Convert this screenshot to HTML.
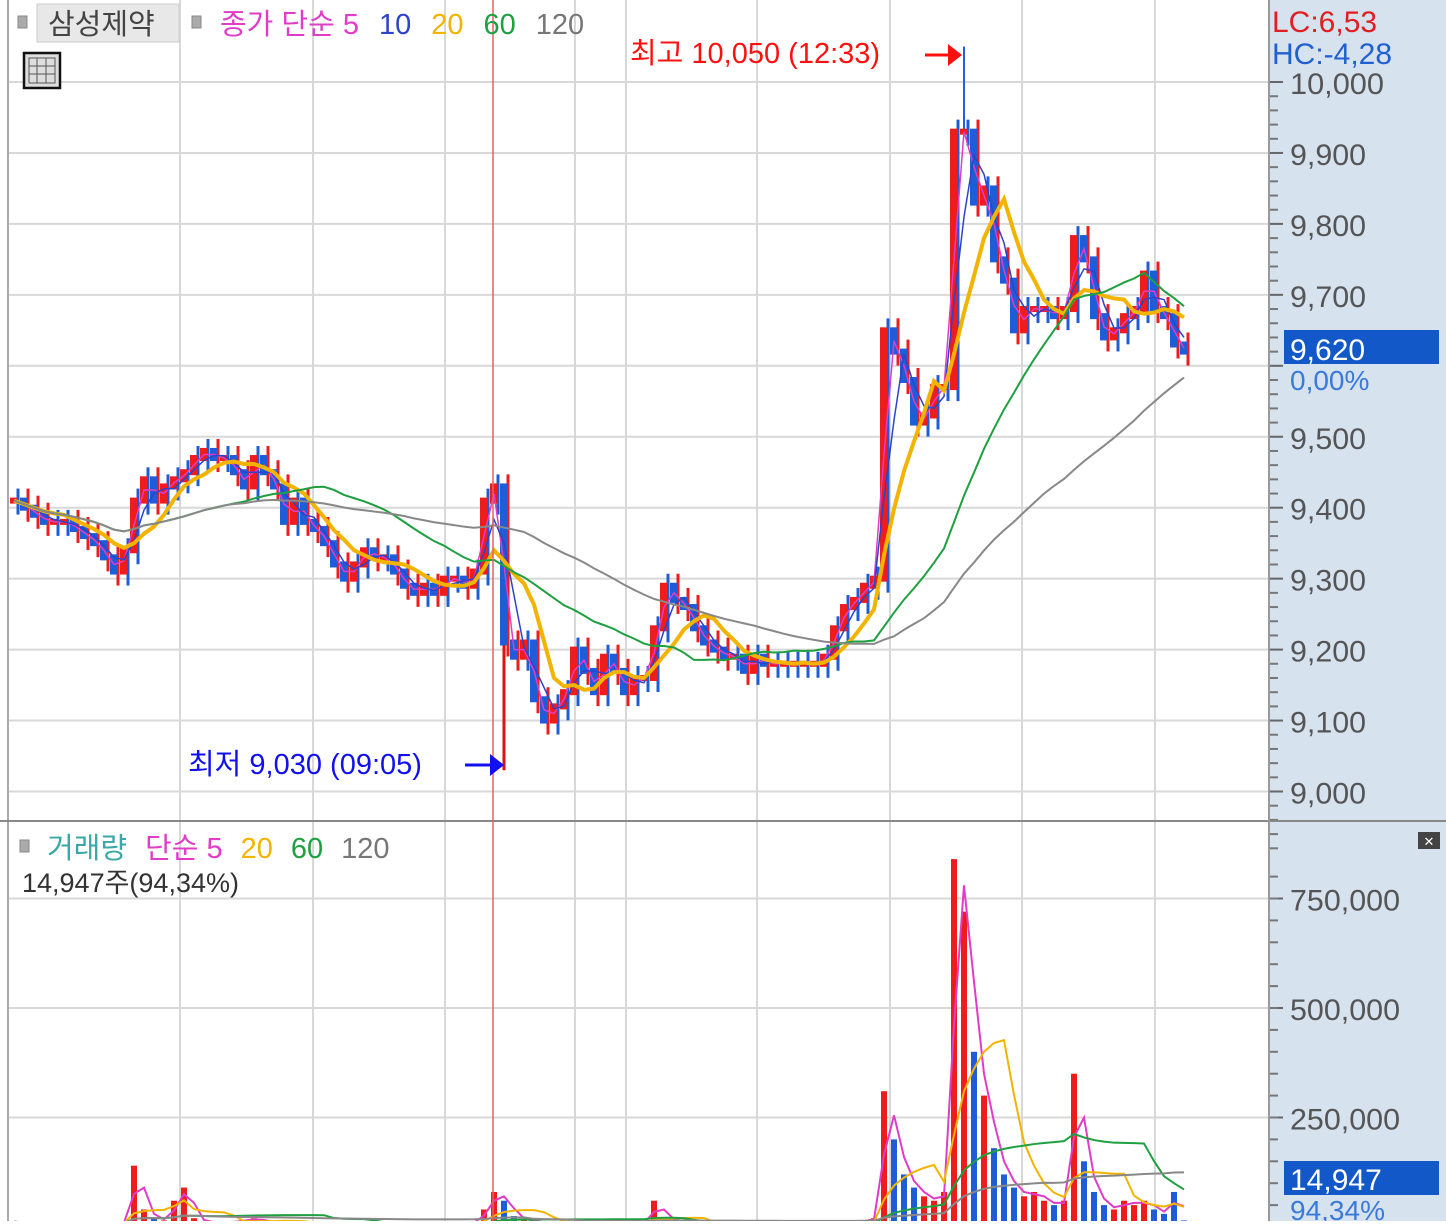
<!DOCTYPE html>
<html><head><meta charset="utf-8">
<style>
html,body{margin:0;padding:0;background:#fff;}
body{width:1446px;height:1221px;overflow:hidden;position:relative;font-family:"Liberation Sans","Noto Sans CJK KR",sans-serif;}
svg text{font-family:"Liberation Sans","Noto Sans CJK KR",sans-serif;}
</style></head>
<body>
<svg id="chart" width="1446" height="1221" xmlns="http://www.w3.org/2000/svg">
  <rect x="0" y="0" width="1446" height="1221" fill="#fff"/>
  <rect x="1270" y="0" width="176" height="1221" fill="#d7e2ef"/>
  <g id="grid"></g>
  <g id="marks"></g>
  <g id="axis"></g>
  <line x1="8" y1="0" x2="8" y2="1221" stroke="#aaa" stroke-width="2"/>
  <line x1="0" y1="821" x2="1446" y2="821" stroke="#888" stroke-width="2"/>
  <line x1="1269" y1="0" x2="1269" y2="1221" stroke="#999" stroke-width="2"/>
  <line x1="493" y1="0" x2="493" y2="1221" stroke="#e86060" stroke-width="1.5"/>
  <rect x="18" y="16" width="9" height="12" fill="#aaa" stroke="#888"/>
  <rect x="37" y="4" width="142" height="38" fill="#e8e8e8" stroke="#ccc"/>
  <text x="48" y="34" font-size="29" fill="#444">삼성제약</text>
  <rect x="192" y="16" width="9" height="12" fill="#aaa" stroke="#888"/>
  <text x="220" y="34" font-size="29"><tspan fill="#e03cc8">종가 단순 5</tspan><tspan fill="#2d43c8" dx="20">10</tspan><tspan fill="#f2b400" dx="20">20</tspan><tspan fill="#1ea040" dx="20">60</tspan><tspan fill="#777" dx="20">120</tspan></text>
  <g><rect x="24" y="53" width="36" height="35" fill="#ddd" stroke="#111" stroke-width="2.5"/><rect x="29" y="58" width="26" height="25" fill="none" stroke="#555"/><line x1="29" y1="66" x2="55" y2="66" stroke="#555"/><line x1="29" y1="74" x2="55" y2="74" stroke="#555"/><line x1="37" y1="58" x2="37" y2="83" stroke="#555"/><line x1="46" y1="58" x2="46" y2="83" stroke="#555"/></g>
  <text x="1272" y="32" font-size="30" fill="#e02020">LC:6,53</text>
  <text x="1272" y="64" font-size="30" fill="#2060d0">HC:-4,28</text>
  <text x="630" y="63" font-size="29" fill="#ff1010">최고 10,050 (12:33)</text>
  <g><line x1="925" y1="55" x2="950" y2="55" stroke="#ff1010" stroke-width="3"/><polygon points="948,44 962,55 948,66" fill="#ff1010"/></g>
  <text x="188" y="774" font-size="29" fill="#1010f0">최저 9,030 (09:05)</text>
  <g><line x1="465" y1="765" x2="492" y2="765" stroke="#1010f0" stroke-width="3"/><polygon points="490,754 504,765 490,776" fill="#1010f0"/></g>
  <rect x="20" y="840" width="9" height="12" fill="#aaa" stroke="#888"/>
  <text x="47" y="858" font-size="29"><tspan fill="#3aa8a8">거래량</tspan><tspan fill="#e03cc8" dx="18">단순 5</tspan><tspan fill="#f2b400" dx="18">20</tspan><tspan fill="#1ea040" dx="18">60</tspan><tspan fill="#777" dx="18">120</tspan></text>
  <text x="22" y="892" font-size="27" fill="#333">14,947주(94,34%)</text>
  <g><rect x="1418" y="832" width="22" height="17" fill="#444"/><text x="1429" y="846" font-size="13" fill="#fff" text-anchor="middle">✕</text></g>
  <g id="boxes">
  <rect x="1284" y="330" width="155" height="34" fill="#1258c8"/>
  <text x="1290" y="360" font-size="30" fill="#fff">9,620</text>
  <rect x="1284" y="366" width="100" height="28" fill="#d7e2ef"/>
  <text x="1290" y="390" font-size="28" fill="#3a7ad8">0,00%</text>
  <rect x="1284" y="1161" width="155" height="34" fill="#1258c8"/>
  <text x="1290" y="1190" font-size="30" fill="#fff">14,947</text>
  <text x="1290" y="1220" font-size="28" fill="#3a7ad8">94,34%</text>
  </g>
</svg>
<script>
const closes=[9410,9400,9390,9380,9380,9380,9370,9360,9350,9330,9310,9340,9410,9440,9410,9430,9440,9450,9470,9480,9470,9470,9450,9430,9470,9450,9430,9380,9410,9380,9370,9350,9320,9300,9320,9340,9330,9330,9310,9290,9280,9290,9280,9300,9300,9290,9310,9410,9430,9210,9190,9210,9130,9100,9120,9140,9200,9170,9140,9190,9170,9140,9160,9160,9230,9290,9270,9260,9230,9210,9200,9190,9190,9170,9190,9180,9180,9180,9180,9180,9180,9190,9230,9260,9270,9290,9300,9650,9620,9580,9520,9530,9570,9570,9930,9930,9830,9850,9750,9720,9650,9680,9680,9680,9670,9680,9780,9750,9670,9640,9650,9670,9680,9730,9680,9670,9630,9620];
const volumes=[12000,9000,8000,7000,8000,6000,7000,9000,8000,10000,9000,11000,140000,40000,20000,15000,60000,90000,20000,12000,10000,9000,14000,15000,20000,12000,10000,15000,12000,9000,8000,8000,10000,9000,7000,8000,7000,6000,8000,9000,7000,6000,7000,8000,6000,7000,12000,40000,80000,60000,25000,15000,12000,10000,10000,8000,12000,9000,8000,9000,8000,7000,8000,9000,60000,20000,15000,12000,9000,8000,7000,6000,6000,5000,5000,4000,4000,4000,4000,4000,5000,6000,8000,10000,12000,15000,20000,310000,200000,120000,90000,70000,60000,80000,840000,720000,400000,300000,180000,120000,90000,70000,80000,60000,50000,60000,350000,150000,80000,50000,40000,60000,50000,60000,40000,30000,80000,15000];
const maPeriods=[2,3,6,20,40];
const maColors=['#e03cc8','#2d43c8','#f2b400','#1ea040','#888'];
const volMaPeriods=[2,6,20,40];
const priceTicks=[9000,9100,9200,9300,9400,9500,9700,9800,9900,10000];
const volumeTicks=[250000,500000,750000];
const vGrid=[180,313,445,575,626,757,890,1022,1155];
const dayHigh={index:95,value:10050};
const dayLow={index:49,value:9030};

const NS='http://www.w3.org/2000/svg';
function el(t,a,p){const e=document.createElementNS(NS,t);for(const k in a)e.setAttribute(k,a[k]);p.appendChild(e);return e;}
const xS=i=>14+i*10;
const yP=p=>82+(10000-p)*0.7095;
const yV=v=>1227-v*(109.5/250000);
const grid=document.getElementById('grid'),marks=document.getElementById('marks'),axis=document.getElementById('axis');
[...priceTicks,9600].forEach(p=>{
  const y=yP(p);
  const l=el('line',{x1:8,y1:y,x2:1268,y2:y,stroke:'#d8d8d8','stroke-width':2},grid);
  
  
  el('line',{x1:1270,y1:y,x2:1283,y2:y,stroke:'#666','stroke-width':2},axis);
  for(let k=1;k<5;k++)el('line',{x1:1270,y1:y+k*14.2,x2:1278,y2:y+k*14.2,stroke:'#777','stroke-width':2},axis);
});
priceTicks.forEach(p=>{
  const y=yP(p);
  const t=el('text',{x:1290,y:y+12,'font-size':30,fill:'#555',textLength:76,lengthAdjust:'spacingAndGlyphs'},axis);
  if(p===10000)t.setAttribute('textLength',94);
  
  
  t.textContent=p.toLocaleString('en-US');
});
volumeTicks.forEach(v=>{
  const y=yV(v);
  const l=el('line',{x1:8,y1:y,x2:1268,y2:y,stroke:'#d8d8d8','stroke-width':2},grid);
  
  
  el('line',{x1:1270,y1:y,x2:1283,y2:y,stroke:'#666','stroke-width':2},axis);
  const t=el('text',{x:1290,y:y+12,'font-size':30,fill:'#555',textLength:110,lengthAdjust:'spacingAndGlyphs'},axis);
  
  
  t.textContent=v.toLocaleString('en-US');
});
for(let k=0;k<17;k++){const y=1227-k*21.9;if(y>830)el('line',{x1:1270,y1:y,x2:1278,y2:y,stroke:'#777','stroke-width':2},axis);}
vGrid.forEach(x=>{
  const l=el('line',{x1:x,y1:0,x2:x,y2:1221,stroke:'#d8d8d8','stroke-width':2},grid);
  
  
});
el('line',{x1:xS(dayHigh.index),y1:yP(dayHigh.value),x2:xS(dayHigh.index),y2:yP(closes[dayHigh.index]),stroke:'#2060e0','stroke-width':2},marks);
el('line',{x1:xS(dayLow.index),y1:yP(dayLow.value),x2:xS(dayLow.index),y2:yP(closes[dayLow.index]),stroke:'#e01010','stroke-width':3},marks);
closes.forEach((c,i)=>{
  const o=i?closes[i-1]:c;
  const up=c>=o;
  const y1=yP(Math.max(o,c)),y2=yP(Math.min(o,c));
  const w=el('line',{x1:xS(i)+4,y1:y1-12,x2:xS(i)+4,y2:y2+14,stroke:up?'#1e5cd8':'#ee1c1c','stroke-width':3},marks);
  
  
  const r=el('rect',{x:xS(i)-4,y:y1-3,width:7,height:Math.max(6,y2-y1+6),fill:up?'#ee1c1c':'#1e5cd8'},marks);
  
  
});
function ma(arr,n){return arr.map((_,i)=>{const s=arr.slice(Math.max(0,i-n+1),i+1);return s.reduce((a,b)=>a+b,0)/s.length;});}
maPeriods.forEach((n,k)=>{
  const m=ma(closes,n);
  const p=el('polyline',{points:m.map((v,i)=>xS(i)+','+yP(v)).join(' '),fill:'none',stroke:maColors[k],'stroke-width':k==2?4:(k<2?1.5:2)},marks);
  
  
});
volumes.forEach((v,i)=>{
  const up=i?closes[i]>=closes[i-1]:true;
  const r=el('rect',{x:xS(i)-3,y:yV(v),width:6,height:1221-yV(v),fill:up?'#ee1c1c':'#1e5cd8'},marks);
  
  
});
volMaPeriods.forEach((n,k)=>{
  const m=ma(volumes,n);
  const c=['#e03cc8','#f2b400','#1ea040','#888'][k];
  const p=el('polyline',{points:m.map((v,i)=>xS(i)+','+yV(v)).join(' '),fill:'none',stroke:c,'stroke-width':2},marks);
  
  
});
document.getElementById('chart').appendChild(document.getElementById('boxes'));
</script>
</body></html>
